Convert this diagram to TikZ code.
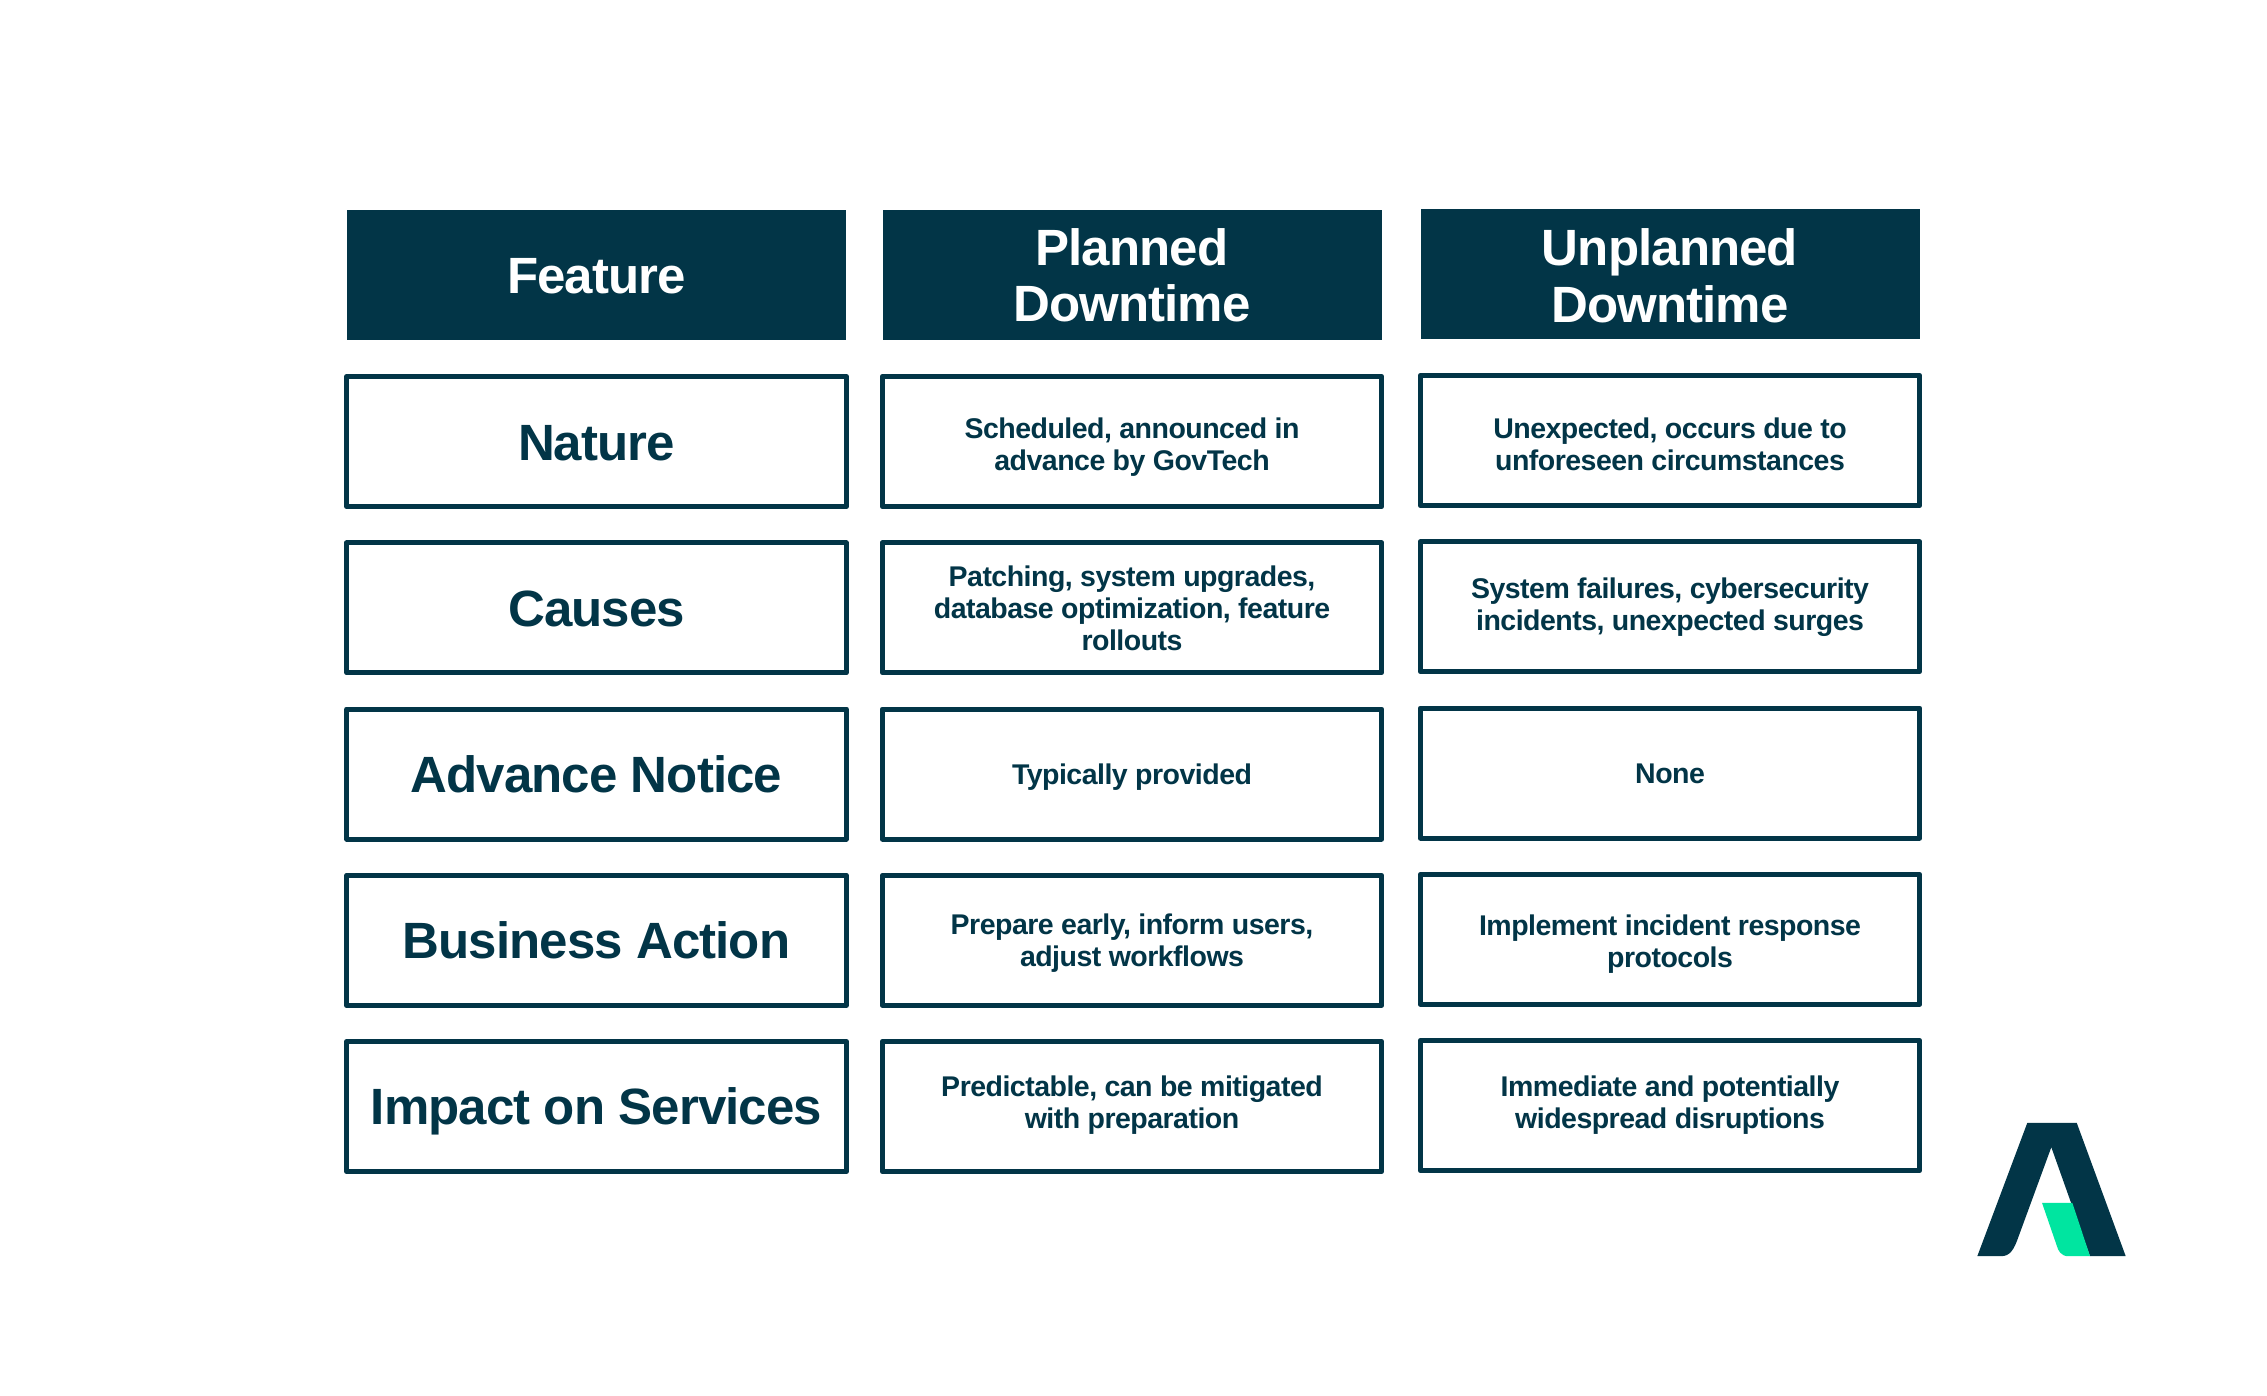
\documentclass[tikz,border=0pt]{standalone}
\usepackage{fontspec}
\setmainfont{Liberation Sans}[BoldFont={Liberation Sans Bold},LetterSpace=-1.8]
\definecolor{navy}{HTML}{023547}
\definecolor{mint}{HTML}{00E5A0}
\newcommand{\dn}[1]{\rule{0pt}{\dimexpr.93em+2\dimexpr#1pt\relax\relax}}
\tikzset{
  balanced/.style={execute at end node={\rule[-.2em]{0pt}{.2em}}},
  raise/.style={execute at end node={\rule[\dimexpr-.2em-2\dimexpr#1pt\relax\relax]{0pt}{\dimexpr.2em+2\dimexpr#1pt\relax\relax}}},
  cellbox/.style={draw=navy,line width=5pt,line join=round,fill=white,minimum width=499.5pt,minimum height=130pt,inner sep=0pt,align=center,text=navy,font=\bfseries\fontsize{28.5}{32}\selectfont,balanced},
  labelbox/.style={cellbox,font=\bfseries\fontsize{51}{56}\selectfont},
  headbox/.style={fill=navy,text=white,minimum width=499pt,minimum height=129.7pt,inner sep=0pt,align=center,font=\bfseries\fontsize{51}{56.5}\selectfont,balanced},
}
\begin{document}
\begin{tikzpicture}[x=1pt,y=-1pt]
\useasboundingbox (0,0) rectangle (2267,1396);
\fill[white] (0,0) rectangle (2267,1396);
\node[headbox] (h1) at (596.5,275) {\dn{0}Feature};
\node[headbox] (h2) at (1132,275) {\dn{0}Planned\\Downtime};
\node[headbox] (h3) at (1670,273.7) {\dn{1.5}Unplanned\\Downtime};
\node[labelbox] (a1) at (596.5,441.5) {\dn{0}Nature};
\node[labelbox] (a2) at (596.5,607.8) {\dn{0}Causes};
\node[labelbox] (a3) at (596.5,774) {\dn{0}Advance Notice};
\node[labelbox] (a4) at (596.5,940.3) {\dn{0}Business Action};
\node[labelbox] (a5) at (596.5,1106.5) {\dn{0}Impact on Services};
\node[cellbox] (b1) at (1132,441.5) {\dn{3}Scheduled, announced in\\advance by GovTech};
\node[cellbox] (b2) at (1132,607.8) {\dn{0}Patching, system upgrades,\\database optimization, feature\\rollouts};
\node[cellbox] (b3) at (1132,774) {\dn{0}Typically provided};
\node[cellbox] (b4) at (1132,940.3) {\dn{0}Prepare early, inform users,\\adjust workflows};
\node[cellbox,raise=4] (b5) at (1132,1106.5) {\dn{0}Predictable, can be mitigated\\with preparation};
\node[cellbox] (c1) at (1670,440.5) {\dn{3.5}Unexpected, occurs due to\\unforeseen circumstances};
\node[cellbox,raise=3] (c2) at (1670,606.8) {\dn{0}System failures, cybersecurity\\incidents, unexpected surges};
\node[cellbox] (c3) at (1670,773) {\dn{0}None};
\node[cellbox] (c4) at (1670,939.3) {\dn{1.5}Implement incident response\\protocols};
\node[cellbox,raise=3] (c5) at (1670,1105.5) {\dn{0}Immediate and potentially\\widespread disruptions};
% logo
\fill[navy] (2027.3,1122.8) -- (2076.7,1122.8) -- (2125.7,1256.2) -- (2090,1256.2) -- (2051.3,1147.2) -- (2018.3,1237.2) .. controls (2014,1249.5) and (2010,1256.2) .. (2001,1256.2) -- (1977.3,1256.2) -- cycle;
\fill[mint] (2042,1202.8) -- (2072.3,1202.8) -- (2090,1256.2) -- (2068.3,1256.2) .. controls (2061,1256.2) and (2058,1250.5) .. (2056.7,1245.5) -- cycle;
\end{tikzpicture}
\end{document}
